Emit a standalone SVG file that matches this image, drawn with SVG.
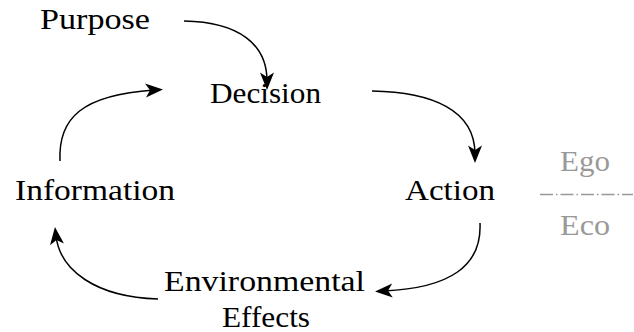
<svg xmlns="http://www.w3.org/2000/svg" width="634" height="332" viewBox="0 0 634 332">
<style>
.t{font-family:'Liberation Serif','DejaVu Serif',serif;font-size:30px;fill:#000}
.g{fill:#999}
.c{fill:none;stroke:#000;stroke-width:1.5}
</style>
<defs>
<marker id="ah" markerUnits="userSpaceOnUse" markerWidth="40" markerHeight="40" viewBox="-20 -20 40 40" refX="0" refY="0" orient="auto" overflow="visible">
<path d="M9 0 L-8.5 -7 L-4 0 L-8.5 7 Z" fill="#000"/>
</marker>
</defs>
<rect width="634" height="332" fill="#fff"/>
<g id="purpose"><text class="t" x="40" y="29" textLength="110" lengthAdjust="spacingAndGlyphs">Purpose</text></g>
<g id="decision"><text class="t" x="210" y="103" textLength="111" lengthAdjust="spacingAndGlyphs">Decision</text></g>
<g id="information"><text class="t" x="15" y="200" textLength="160" lengthAdjust="spacingAndGlyphs">Information</text></g>
<g id="action"><text class="t" x="405" y="200" textLength="90" lengthAdjust="spacingAndGlyphs">Action</text></g>
<g id="environmental"><text class="t" x="164" y="291" textLength="201" lengthAdjust="spacingAndGlyphs">Environmental</text><text class="t" x="222" y="327" textLength="88" lengthAdjust="spacingAndGlyphs">Effects</text></g>
<g id="egoeco">
<text class="t g" x="560" y="171" textLength="50" lengthAdjust="spacingAndGlyphs">Ego</text>
<line x1="540" y1="194.5" x2="633" y2="194.5" stroke="#999" stroke-width="1.5" stroke-dasharray="13 3 1.5 3"/>
<text class="t g" x="560" y="235" textLength="50" lengthAdjust="spacingAndGlyphs">Eco</text>
</g>
<g id="connectors">
<path class="c" d="M184 21 C240 22 267 45 267 81" marker-end="url(#ah)"/>
<path class="c" d="M60 161 C58 118 82 95 154 90" marker-end="url(#ah)"/>
<path class="c" d="M372 91 C432 92 475 110 475 154" marker-end="url(#ah)"/>
<path class="c" d="M480 223 C482 266 450 288 384 291" marker-end="url(#ah)"/>
<path class="c" d="M158 299 C95 297 60 270 56 236" marker-end="url(#ah)"/>
</g>
</svg>
